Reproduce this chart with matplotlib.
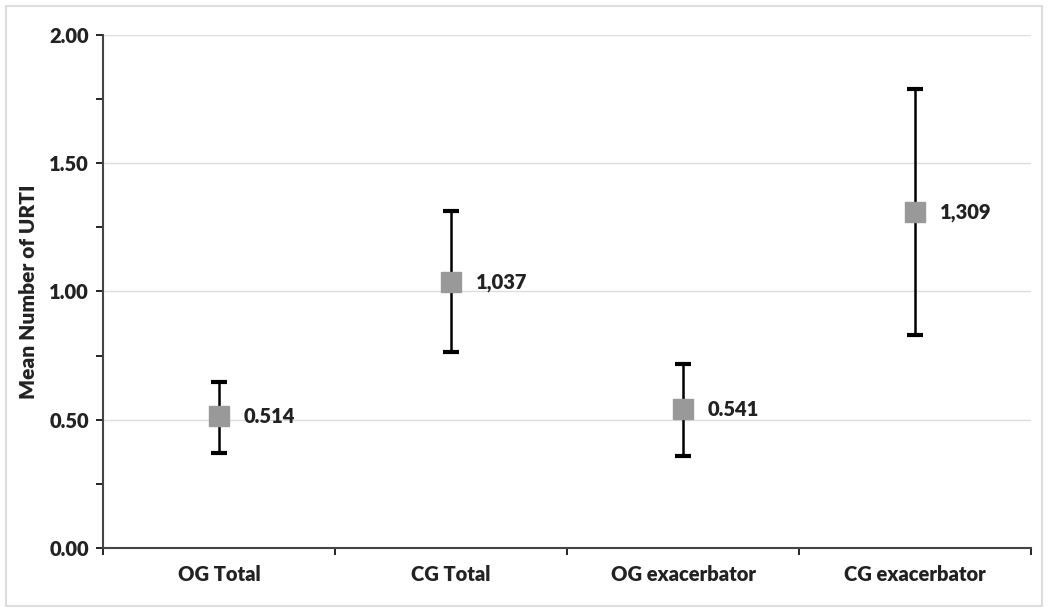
import numpy as np
import matplotlib.pyplot as plt
from matplotlib.patches import Rectangle

categories = ["OG Total", "CG Total", "OG exacerbator", "CG exacerbator"]
means = [0.514, 1.037, 0.541, 1.309]
lower = [0.37, 0.764, 0.359, 0.830]
upper = [0.647, 1.314, 0.717, 1.79]
value_labels = ["0.514", "1,037", "0.541", "1,309"]

plt.rcParams["font.family"] = ["Lato", "DejaVu Sans"]
plt.rcParams["font.weight"] = "heavy"

fig = plt.figure(figsize=(10.48, 6.12), dpi=100)
ax = fig.add_axes([0.0983, 0.1046, 0.8855, 0.8382])

x = np.arange(len(categories)) + 0.5
m = np.array(means)
yerr = [m - np.array(lower), np.array(upper) - m]

ax.errorbar(x, m, yerr=yerr, fmt="none", ecolor="black", elinewidth=1.8,
            capsize=5.8, capthick=3, zorder=3)
ax.plot(x, m, "s", color="#999999", markersize=14, zorder=4, linestyle="none")

for xi, yi, lab in zip(x, m, value_labels):
    ax.annotate(lab, (xi, yi), xytext=(18, 0), textcoords="offset points",
                va="center", ha="left", fontsize=14.5, fontweight="heavy",
                color="#222222")

ax.set_xlim(0, len(categories))
ax.set_ylim(0, 2.0)
ax.set_yticks([0, 0.5, 1.0, 1.5, 2.0])
ax.set_yticklabels([f"{v:.2f}" for v in [0, 0.5, 1.0, 1.5, 2.0]])
ax.set_yticks([0.25, 0.75, 1.25, 1.75], minor=True)
ax.set_xticks(np.arange(len(categories) + 1))
ax.set_xticklabels([])
ax.set_xticks(x, minor=True)
ax.set_xticklabels(categories, minor=True)
ax.tick_params(axis="x", which="minor", length=0, pad=12, labelsize=14.5,
               labelcolor="#222222")
ax.tick_params(axis="x", which="major", length=5, width=1.2, direction="out")
ax.tick_params(axis="y", which="both", length=5, width=1.2, direction="out",
               labelsize=14.5, pad=5, labelcolor="#222222")

ax.grid(axis="y", which="major", color="#dddddd", linewidth=1)
ax.set_axisbelow(True)
for s in ["top", "right"]:
    ax.spines[s].set_visible(False)
for s in ["left", "bottom"]:
    ax.spines[s].set_color("#444444")
    ax.spines[s].set_linewidth(1.5)

ax.set_ylabel("Mean Number of URTI", fontsize=15, fontweight="heavy",
              labelpad=8, color="#222222")

fig.patches.append(Rectangle((0.006, 0.01), 0.988, 0.98, transform=fig.transFigure,
                             fill=False, edgecolor="#dddddd", linewidth=1.5))

fig.savefig("out.png", dpi=100)
